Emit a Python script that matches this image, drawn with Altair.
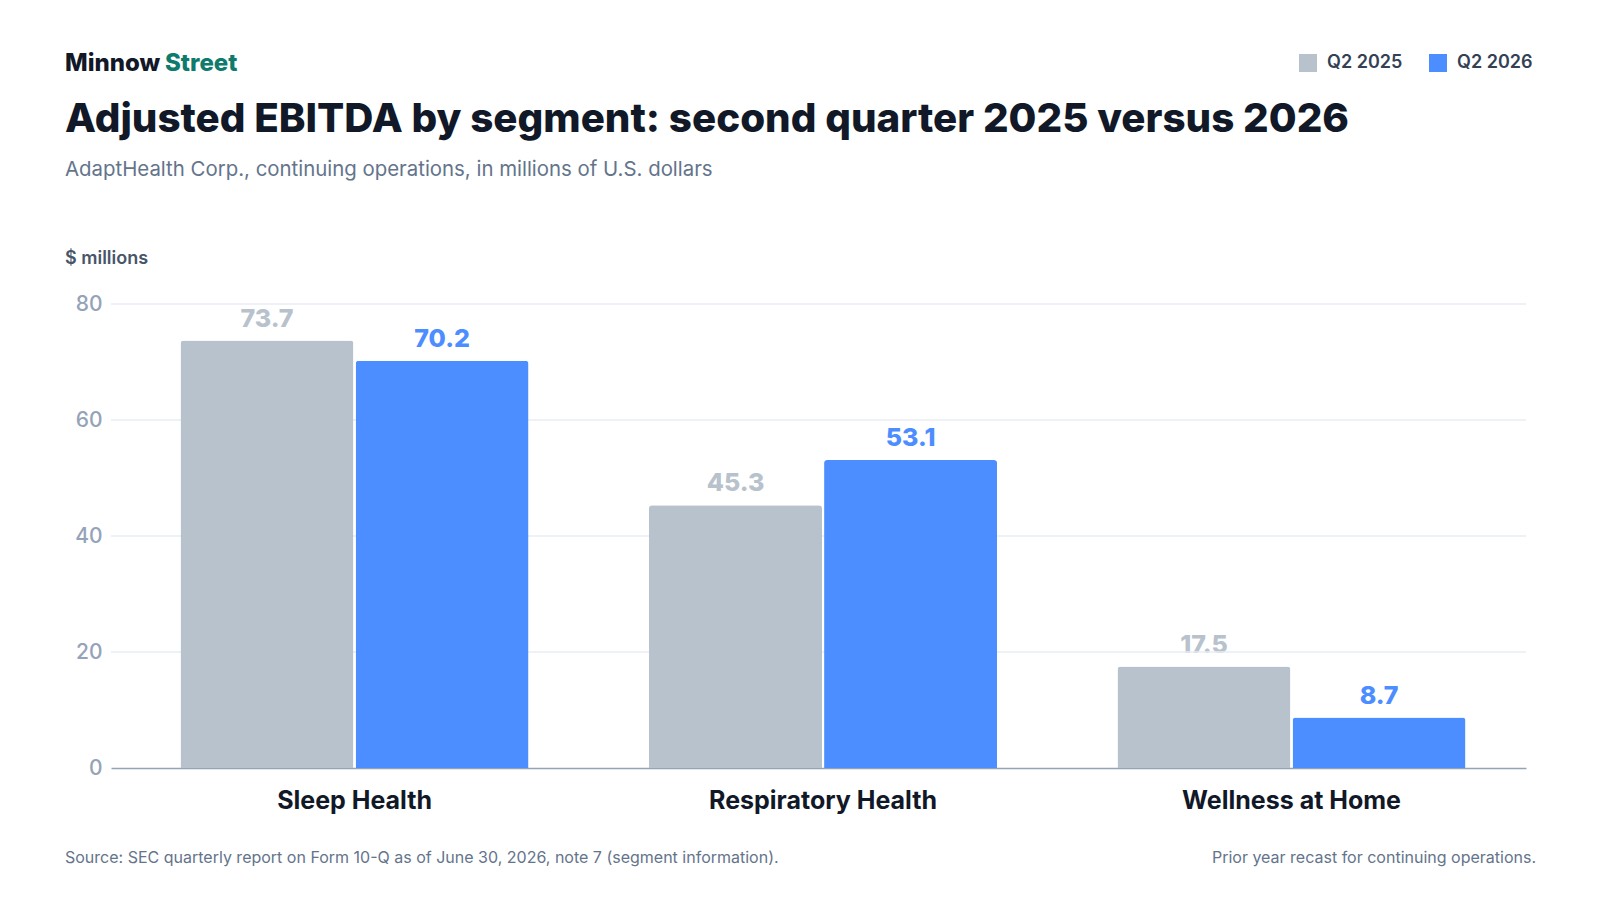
import altair as alt
import pandas as pd

segments = ["Sleep Health", "Respiratory Health", "Wellness at Home"]
q2_2025 = [73.7, 45.3, 17.5]
q2_2026 = [70.2, 53.1, 8.7]
series = ["Q2 2025", "Q2 2026"]
colors = ["#b8c2cc", "#4c8dff"]
y_ticks = [0, 20, 40, 60, 80]
grid_vals = [20, 40, 60, 80]

brand_a = "Minnow"
brand_b = "Street"
title = "Adjusted EBITDA by segment: second quarter 2025 versus 2026"
subtitle = "AdaptHealth Corp., continuing operations, in millions of U.S. dollars"
y_unit = "$ millions"
source = "Source: SEC quarterly report on Form 10-Q as of June 30, 2026, note 7 (segment information)."
note = "Prior year recast for continuing operations."

FONT = "Inter"

rows = []
for i, s in enumerate(segments):
    rows.append({"segment": s, "series": series[0], "value": q2_2025[i], "label": f"{q2_2025[i]:.1f}"})
    rows.append({"segment": s, "series": series[1], "value": q2_2026[i], "label": f"{q2_2026[i]:.1f}"})
df = pd.DataFrame(rows)

W, H = 1415, 464

y_axis = alt.Axis(title=None, values=y_ticks, labelFont=FONT, labelFontSize=21, labelFontWeight=500,
                  labelColor="#94a3b8", labelPadding=9, ticks=False, domain=False, grid=False)
y_scale = alt.Scale(domain=[0, 80], nice=False)

x_enc = alt.X("segment:N", sort=segments,
              scale=alt.Scale(paddingInner=0.257, paddingOuter=0.1387, align=0.535),
              axis=alt.Axis(title=None, labelFont=FONT, labelFontSize=25, labelFontWeight="bold",
                            labelColor="#111827", labelPadding=20, ticks=False, domain=True,
                            domainColor="#94a3b8", domainWidth=1.5, labelAngle=0, grid=False,
                            labelLimit=0))
xoff = alt.XOffset("series:N", sort=series, scale=alt.Scale(paddingInner=0.012, paddingOuter=0))
y_enc = alt.Y("value:Q", scale=y_scale, axis=y_axis)

base = alt.Chart(df)

labels = base.mark_text(font=FONT, fontSize=25, fontWeight=800, baseline="alphabetic", dy=-14).encode(
    x=x_enc, xOffset=xoff, y=y_enc, text="label:N",
    color=alt.Color("series:N", scale=alt.Scale(domain=series, range=colors), legend=None),
)

grid = alt.Chart(pd.DataFrame({"v": grid_vals})).mark_rule(color="#e9edf2", strokeWidth=1.5).encode(
    y=alt.Y("v:Q", scale=y_scale, axis=y_axis)
)

bars = base.mark_bar(cornerRadiusTopLeft=3, cornerRadiusTopRight=3).encode(
    x=x_enc, xOffset=xoff, y=y_enc,
    color=alt.Color("series:N", scale=alt.Scale(domain=series, range=colors),
                    legend=alt.Legend(title=None, orient="none", legendX=1188, legendY=-250,
                                      direction="horizontal", symbolType="square", symbolSize=324,
                                      symbolStrokeWidth=0, labelFont=FONT, labelFontSize=18,
                                      labelFontWeight=600, labelColor="#334155", labelOffset=10,
                                      columnPadding=26, padding=0)),
)

def txt(t, x, y, size, color, weight="normal", align="left"):
    return alt.Chart(pd.DataFrame({"t": [t]})).mark_text(
        font=FONT, fontSize=size, fontWeight=weight, color=color, align=align, baseline="alphabetic"
    ).encode(text="t:N", x=alt.value(x), y=alt.value(y))

texts = [
    txt(brand_a, -46, -233, 24, "#111827", 800),
    txt(brand_b, 54, -233, 24, "#0f7b6c", 800),
    txt(title, -46, -172, 40.3, "#111827", 800),
    txt(subtitle, -46, -128, 20.4, "#64748b"),
    txt(y_unit, -46, -40, 18, "#475569", 600),
    txt(source, -46, 559, 16, "#64748b"),
    txt(note, 1425, 559, 16, "#64748b", align="right"),
]

chart = alt.layer(labels, grid, bars, *texts).resolve_scale(color="independent").properties(
    width=W, height=H,
    autosize=alt.AutoSizeParams(type="none"),
    padding={"left": 103, "top": 296, "right": 66, "bottom": 124},
    background="white",
).configure_view(stroke="transparent")

chart.save("out.html", embed_options={"renderer": "svg", "actions": False})
